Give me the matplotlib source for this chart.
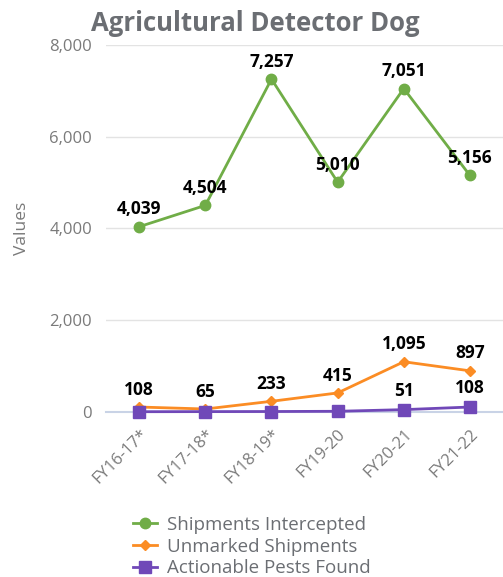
import matplotlib.pyplot as plt
from matplotlib.ticker import FuncFormatter

plt.rcParams['font.family'] = ['Open Sans', 'DejaVu Sans']

years = ["FY16-17*", "FY17-18*", "FY18-19*", "FY19-20", "FY20-21", "FY21-22"]
intercepted = [4039, 4504, 7257, 5010, 7051, 5156]
unmarked = [108, 65, 233, 415, 1095, 897]
pests = [6, 8, 10, 15, 51, 108]
pest_labels = [None, None, None, None, "51", "108"]

green = "#70ad47"
orange = "#fb8c24"
purple = "#7048b8"
grey = "#6b6e73"
tick_grey = "#7a7a7a"

fig = plt.figure(figsize=(5.03, 5.77), dpi=100)
ax = fig.add_axes([0.211, 0.286, 0.789, 0.636])

x = list(range(len(years)))
ax.plot(x, intercepted, color=green, lw=2, marker="o", ms=7.5, label="Shipments Intercepted", zorder=3)
ax.plot(x, unmarked, color=orange, lw=2, marker="D", ms=5.5, label="Unmarked Shipments", zorder=4)
ax.plot(x, pests, color=purple, lw=2, marker="s", ms=9, label="Actionable Pests Found", zorder=5)

# value labels above the points
label_kw = dict(textcoords="offset points", ha="center", va="bottom",
                fontsize=12.5, fontweight="bold", color="black")
for xi, v in zip(x, intercepted):
    ax.annotate(f"{v:,}", (xi, v), xytext=(0, 6), **label_kw)
for xi, v in zip(x, unmarked):
    ax.annotate(f"{v:,}", (xi, v), xytext=(0, 6), **label_kw)
for xi, v, lab in zip(x, pests, pest_labels):
    if lab:
        ax.annotate(lab, (xi, v), xytext=(0, 7), **label_kw)

ax.set_xlim(-0.5, len(years) - 0.5)
ax.set_ylim(0, 8000)
ax.set_yticks([0, 2000, 4000, 6000, 8000])
ax.yaxis.set_major_formatter(FuncFormatter(lambda v, p: f"{int(v):,}"))
ax.set_xticks(x)
ax.set_xticklabels(years, rotation=45, ha="right", rotation_mode="anchor")
ax.tick_params(axis="both", length=0, labelsize=12, colors=tick_grey, pad=10)
ax.tick_params(axis="x", pad=10)

for s in ax.spines.values():
    s.set_visible(False)
ax.grid(axis="y", color="#e3e3e3", lw=1)
ax.axhline(0, color="#c9d3e6", lw=1.5, zorder=1)
ax.set_axisbelow(True)
for line in ax.lines:
    line.set_clip_on(False)

ax.set_ylabel("Values", color=tick_grey, fontsize=12.5, labelpad=14)
fig.text(0.507, 0.96, "Agricultural Detector Dog", ha="center", va="center",
         fontsize=18.5, fontweight="bold", color=grey)

leg = fig.legend(loc="lower center", bbox_to_anchor=(0.5, -0.03), ncol=1, frameon=False,
                 fontsize=13.5, handlelength=1.3, handletextpad=0.5, labelspacing=0.2)
for t in leg.get_texts():
    t.set_color(grey)

fig.savefig("out.png", dpi=100)
